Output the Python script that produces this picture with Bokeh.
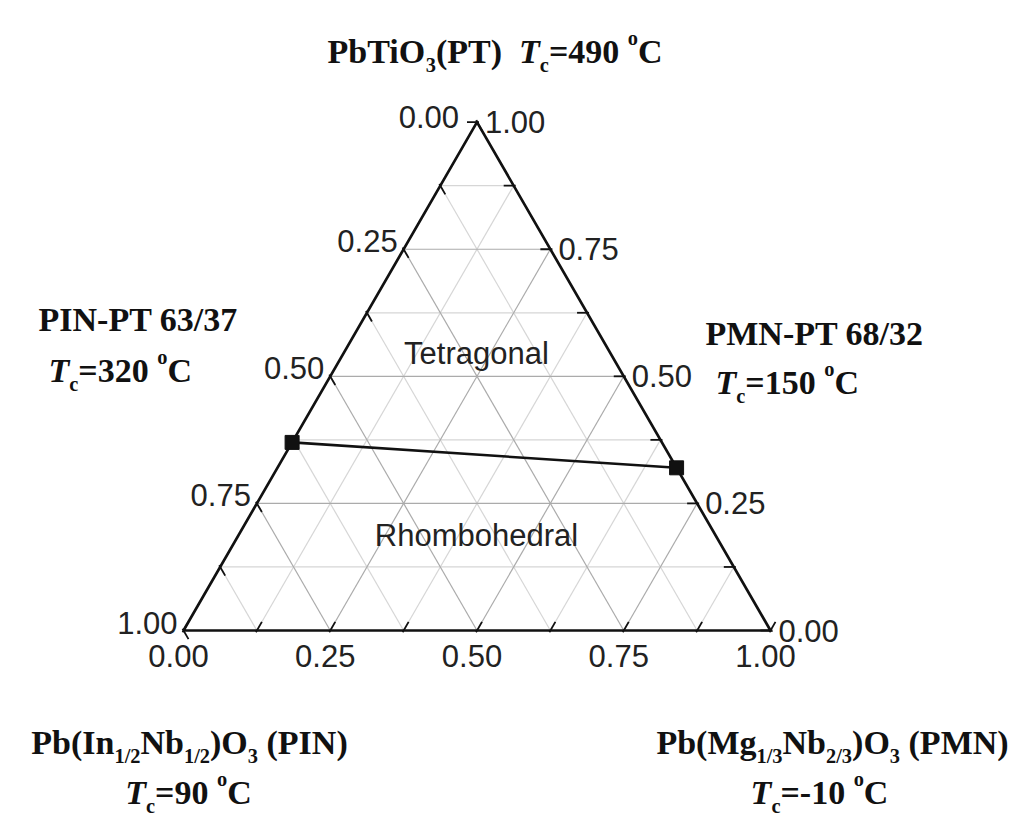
import math
from bokeh.plotting import figure
from bokeh.models import Range1d, Label, ColumnDataSource
from bokeh.core.properties import value
from bokeh.embed import file_html
from bokeh.resources import INLINE

# ---------------- data ----------------
components = ["PIN", "PMN", "PT"]
tick_values = [0.0, 0.125, 0.25, 0.375, 0.5, 0.625, 0.75, 0.875, 1.0]
major_grid = [0.25, 0.5, 0.75]
minor_grid = [0.125, 0.375, 0.625, 0.875]
label_values = [0.0, 0.25, 0.5, 0.75, 1.0]
tick_labels = ["0.00", "0.25", "0.50", "0.75", "1.00"]
# morphotropic phase boundary end points (PIN, PMN, PT fractions)
mpb_pin = [0.63, 0.0]
mpb_pmn = [0.0, 0.68]
mpb_pt = [0.37, 0.32]
phase_names = ["Tetragonal", "Rhombohedral"]

# ---------------- layout ----------------
W, H = 1016, 820
M = 0                 # offset of the canvas in the picture
S = 587.0             # px per ternary unit
OX, OY = 183, 630     # picture position of bottom-left vertex
h = math.sqrt(3) / 2

def tern(pin, pmn, pt):
    return pmn + pt / 2.0, pt * h

p = figure(width=W, height=H, output_backend="svg", toolbar_location=None,
           x_axis_type=None, y_axis_type=None, min_border=0,
           x_range=Range1d(-(OX - M) / S, (W - (OX - M)) / S),
           y_range=Range1d(-(H - (OY - M)) / S, (OY - M) / S))
p.outline_line_color = None
p.background_fill_color = "white"
p.border_fill_color = "white"

# ---------------- grid ----------------
def grid_lines(vals):
    xs, ys = [], []
    for f in vals:
        a = tern(1 - f, 0, f); b = tern(0, 1 - f, f)          # constant PT
        xs.append([a[0], b[0]]); ys.append([a[1], b[1]])
        a = tern(1 - f, f, 0); b = tern(0, f, 1 - f)          # constant PMN
        xs.append([a[0], b[0]]); ys.append([a[1], b[1]])
        a = tern(f, 1 - f, 0); b = tern(f, 0, 1 - f)          # constant PIN
        xs.append([a[0], b[0]]); ys.append([a[1], b[1]])
    return xs, ys

xs, ys = grid_lines(minor_grid)
p.multi_line(xs, ys, line_color="#d6d6d6", line_width=1.2)
xs, ys = grid_lines(major_grid)
p.multi_line(xs, ys, line_color="#ababab", line_width=1.2)

# ---------------- ticks ----------------
L_in = 10 / S
L_out = 2 / S
tx, ty = [], []
c60, s60 = 0.5, h
for f in tick_values:
    x0, y0 = tern(1 - f, f, 0)     # bottom axis (PMN): up-right
    tx.append([x0 - c60 * L_out, x0 + c60 * L_in]); ty.append([y0 - s60 * L_out, y0 + s60 * L_in])
    x0, y0 = tern(f, 0, 1 - f)     # left axis (PIN): down-right
    tx.append([x0 - c60 * L_out, x0 + c60 * L_in]); ty.append([y0 + s60 * L_out, y0 - s60 * L_in])
    x0, y0 = tern(0, 1 - f, f)     # right axis (PT): left
    tx.append([x0 + L_out, x0 - L_in]); ty.append([y0, y0])
p.multi_line(tx, ty, line_color="#111111", line_width=1.8)

# ---------------- triangle ----------------
corners = [tern(1, 0, 0), tern(0, 1, 0), tern(0, 0, 1), tern(1, 0, 0)]
p.line([c[0] for c in corners], [c[1] for c in corners],
       line_color="#111111", line_width=2.7, line_join="miter")

# ---------------- tick labels ----------------
tick_font = value("Liberation Sans")
TFS = "31px"
bx = [tern(1 - f, f, 0)[0] for f in label_values]
by = [tern(1 - f, f, 0)[1] for f in label_values]
p.text(bx, by, text=tick_labels, text_font=tick_font, text_font_size=TFS,
       text_align="center", text_baseline="top", x_offset=-5, y_offset=14, text_color="#222222")
lx = [tern(f, 0, 1 - f)[0] for f in label_values]
ly = [tern(f, 0, 1 - f)[1] for f in label_values]
left_dx = [-18 if f == 0 else -6 for f in label_values]
left_dy = [-5 if f == 0 else -8 for f in label_values]
p.text(x=lx, y=ly, text=tick_labels, text_font=tick_font, text_font_size=TFS,
       text_align="right", text_baseline="middle", x_offset=left_dx, y_offset=left_dy,
       text_color="#222222")
rx = [tern(0, 1 - f, f)[0] for f in label_values]
ry = [tern(0, 1 - f, f)[1] for f in label_values]
p.text(rx, ry, text=tick_labels, text_font=tick_font, text_font_size=TFS,
       text_align="left", text_baseline="middle", x_offset=8, y_offset=0, text_color="#222222")

# ---------------- phase boundary ----------------
mx = [tern(a, b, c)[0] for a, b, c in zip(mpb_pin, mpb_pmn, mpb_pt)]
my = [tern(a, b, c)[1] for a, b, c in zip(mpb_pin, mpb_pmn, mpb_pt)]
src = ColumnDataSource(dict(x=mx, y=my))
p.line("x", "y", source=src, line_color="#111111", line_width=2.6)
p.scatter("x", "y", source=src, marker="square", size=14, fill_color="#111111", line_color="#111111")

# ---------------- region labels ----------------
def put(text, X, Y, size, font="Liberation Sans", style="normal", align="center", base="middle", color="#222222"):
    p.add_layout(Label(x=X - M, y=H - (Y - M), x_units="screen", y_units="screen", text=text,
                       text_font=font, text_font_size=f"{size}px", text_font_style=style,
                       text_align=align, text_baseline=base, text_color=color))

put(phase_names[0], 476, 353, 31)
put(phase_names[1], 476, 535, 31)

# ---------------- rich (sub/superscript) labels ----------------
TB = {' ': 250, '(': 333, ')': 333, '-': 333, '.': 250, '/': 278, '=': 570, 'C': 722, 'I': 389,
      'M': 944, 'N': 722, 'O': 778, 'P': 611, 'T': 667, 'b': 556, 'c': 444, 'g': 500, 'i': 278,
      'n': 556, 'o': 500, 'e': 444}
for d in "0123456789":
    TB[d] = 500

def rich(segs, X, Y, size=34, align="left"):
    items = []
    total = 0.0
    for t, kind in segs:
        fs = size * 0.6 if kind in ("sub", "sup") else size
        wtab = dict(TB)
        if kind == "i":
            wtab['T'] = 611
        w = sum(wtab.get(ch, 500) for ch in t) * fs / 1000.0
        items.append((t, kind, fs, w))
        total += w
    x = X - total / 2 if align == "center" else X
    for t, kind, fs, w in items:
        dy = 0.4 * size if kind == "sub" else (-0.4 * size if kind == "sup" else 0)
        style = "bold italic" if kind == "i" else "bold"
        if t.strip():
            lead = (len(t) - len(t.lstrip())) * 250 * fs / 1000.0
            put(t.strip(), x + lead, Y + dy, round(fs, 1), font="Liberation Serif", style=style,
                align="left", base="alphabetic", color="#111111")
        x += w

rich([("PbTiO", "n"), ("3", "sub"), ("(PT)  ", "n"), ("T", "i"), ("c", "sub"),
      ("=490 ", "n"), ("o", "sup"), ("C", "n")], 327, 51)
rich([("PIN-PT 63/37", "n")], 38, 319)
rich([("T", "i"), ("c", "sub"), ("=320 ", "n"), ("o", "sup"), ("C", "n")], 48, 370)
rich([("PMN-PT 68/32", "n")], 705, 333)
rich([("T", "i"), ("c", "sub"), ("=150 ", "n"), ("o", "sup"), ("C", "n")], 715, 382)
rich([("Pb(In", "n"), ("1/2", "sub"), ("Nb", "n"), ("1/2", "sub"), (")O", "n"), ("3", "sub"),
      (" (PIN)", "n")], 189, 742, align="center")
rich([("T", "i"), ("c", "sub"), ("=90 ", "n"), ("o", "sup"), ("C", "n")], 188, 792, align="center")
rich([("Pb(Mg", "n"), ("1/3", "sub"), ("Nb", "n"), ("2/3", "sub"), (")O", "n"), ("3", "sub"),
      (" (PMN)", "n")], 832, 742, align="center")
rich([("T", "i"), ("c", "sub"), ("=-10 ", "n"), ("o", "sup"), ("C", "n")], 819, 792, align="center")

open("out.html", "w").write(file_html(p, INLINE))
